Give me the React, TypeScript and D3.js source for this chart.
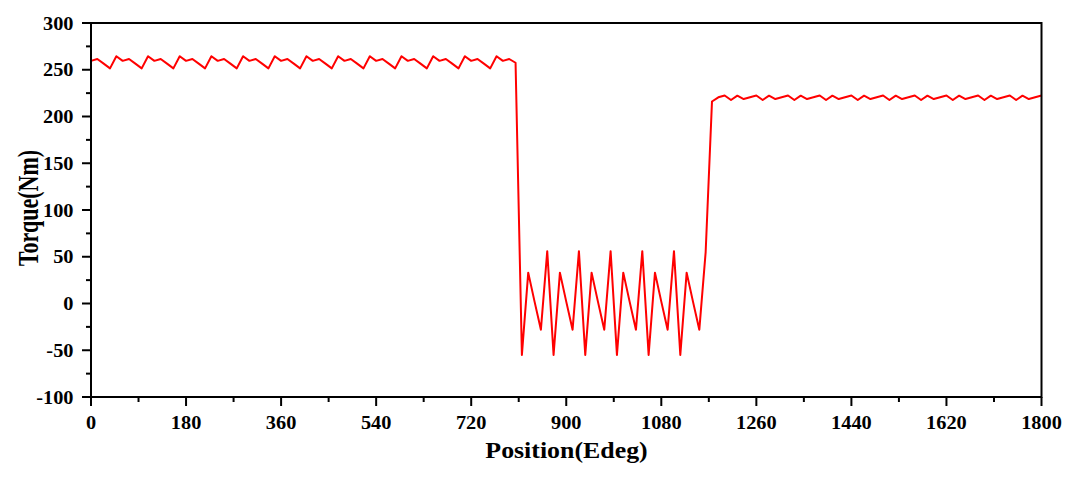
import React from "react";
import * as d3 from "d3";

const positions: number[] = d3.range(0, 1801, 12);

const torque: number[] = [
  // 0 .. 804
  259.5, 261.5, 256.5, 251.5, 264.5,
  259.5, 261.5, 256.5, 251.5, 264.5,
  259.5, 261.5, 256.5, 251.5, 264.5,
  259.5, 261.5, 256.5, 251.5, 264.5,
  259.5, 261.5, 256.5, 251.5, 264.5,
  259.5, 261.5, 256.5, 251.5, 264.5,
  259.5, 261.5, 256.5, 251.5, 264.5,
  259.5, 261.5, 256.5, 251.5, 264.5,
  259.5, 261.5, 256.5, 251.5, 264.5,
  259.5, 261.5, 256.5, 251.5, 264.5,
  259.5, 261.5, 256.5, 251.5, 264.5,
  259.5, 261.5, 256.5, 251.5, 264.5,
  259.5, 261.5, 256.5, 251.5, 264.5,
  259.5, 261.5, 257.5,
  // 816 .. 1164
  -55, 33, 2, -28, 56,
  -55, 33, 2, -28, 56,
  -55, 33, 2, -28, 56,
  -55, 33, 2, -28, 56,
  -55, 33, 2, -28, 56,
  -55, 33, 2, -28, 55,
  // 1176 .. 1800
  216, 220.5,
  222.5, 217.6, 222.3, 218.7, 220.6,
  222.5, 217.6, 222.3, 218.7, 220.6,
  222.5, 217.6, 222.3, 218.7, 220.6,
  222.5, 217.6, 222.3, 218.7, 220.6,
  222.5, 217.6, 222.3, 218.7, 220.6,
  222.5, 217.6, 222.3, 218.7, 220.6,
  222.5, 217.6, 222.3, 218.7, 220.6,
  222.5, 217.6, 222.3, 218.7, 220.6,
  222.5, 217.6, 222.3, 218.7, 220.6,
  222.5, 217.6, 222.3, 218.7, 220.6,
  222.5,
];

const xMajorTicks: number[] = [0, 180, 360, 540, 720, 900, 1080, 1260, 1440, 1620, 1800];
const xMinorTicks: number[] = [90, 270, 450, 630, 810, 990, 1170, 1350, 1530, 1710];
const yMajorTicks: number[] = [-100, -50, 0, 50, 100, 150, 200, 250, 300];
const yMinorTicks: number[] = [-75, -25, 25, 75, 125, 175, 225, 275];

const xTitle = "Position(Edeg)";
const yTitle = "Torque(Nm)";

const W = 1073;
const H = 477;
const L = 91;
const R = 1041.5;
const T = 23;
const B = 397;

export default function App() {
  const x = d3.scaleLinear().domain([0, 1800]).range([L, R]);
  const y = d3.scaleLinear().domain([-100, 300]).range([B, T]);
  const pts: [number, number][] = positions.map((p, i) => [p, torque[i]]);
  const line = d3
    .line<[number, number]>()
    .x((d) => x(d[0]))
    .y((d) => y(d[1]));
  const font = "'Liberation Serif', 'Times New Roman', serif";
  const tickFs = 18.5;
  const tickSx = 1.1;
  return (
    <div>
      <style>{`body{margin:0;background:#fff}`}</style>
      <svg width={W} height={H} style={{ display: "block" }}>
        <rect x={0} y={0} width={W} height={H} fill="#fff" />
        <path d={line(pts) || ""} fill="none" stroke="#ff0000" strokeWidth={2} strokeLinejoin="round" />
        {/* frame */}
        <rect x={L} y={T} width={R - L} height={B - T} fill="none" stroke="#000" strokeWidth={2} />
        {/* y ticks */}
        {yMajorTicks.map((t) => (
          <g key={"ym" + t}>
            <line x1={L - 9} x2={L} y1={y(t)} y2={y(t)} stroke="#000" strokeWidth={2} />
            <text
              transform={`translate(73.5, ${y(t)}) scale(${tickSx}, 1)`}
              dy="0.36em"
              textAnchor="end"
              fontFamily={font}
              fontWeight="bold"
              fontSize={tickFs}
              fill="#000"
            >
              {t}
            </text>
          </g>
        ))}
        {yMinorTicks.map((t) => (
          <line key={"yn" + t} x1={L - 5} x2={L} y1={y(t)} y2={y(t)} stroke="#000" strokeWidth={2} />
        ))}
        {/* x ticks */}
        {xMajorTicks.map((t) => (
          <g key={"xm" + t}>
            <line x1={x(t)} x2={x(t)} y1={B} y2={B + 9} stroke="#000" strokeWidth={2} />
            <text
              transform={`translate(${x(t)}, 429.3) scale(${tickSx}, 1)`}
              textAnchor="middle"
              fontFamily={font}
              fontWeight="bold"
              fontSize={tickFs}
              fill="#000"
            >
              {t}
            </text>
          </g>
        ))}
        {xMinorTicks.map((t) => (
          <line key={"xn" + t} x1={x(t)} x2={x(t)} y1={B} y2={B + 5} stroke="#000" strokeWidth={2} />
        ))}
        <text
          transform={`translate(566.5, 457.7) scale(1.15, 1)`}
          textAnchor="middle"
          fontFamily={font}
          fontWeight="bold"
          fontSize={22.5}
          fill="#000"
        >
          {xTitle}
        </text>
        <text
          transform={`translate(37.5, 208) rotate(-90) scale(1, 1.3)`}
          textAnchor="middle"
          fontFamily={font}
          fontWeight="bold"
          fontSize={22}
          fill="#000"
        >
          {yTitle}
        </text>
      </svg>
    </div>
  );
}
